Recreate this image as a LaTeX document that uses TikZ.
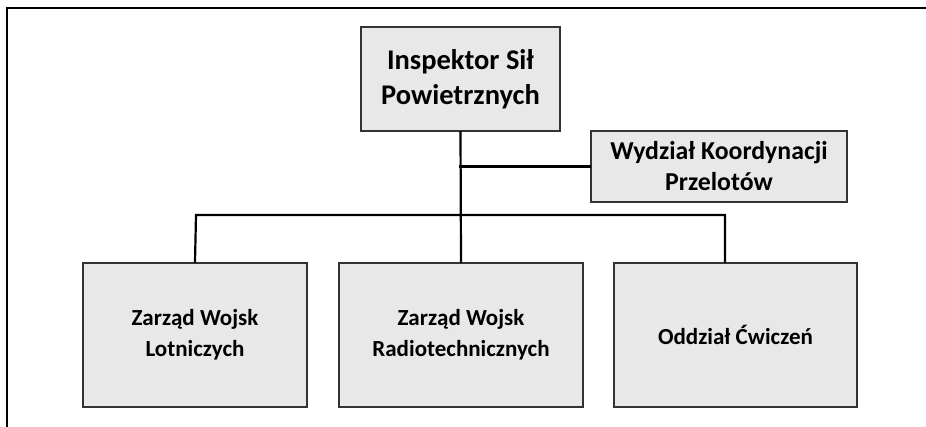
\documentclass[tikz,border=0pt]{standalone}
\usepackage{fontspec}
\setmainfont{Carlito}
\usepackage{tikz}
\usetikzlibrary{positioning}
\definecolor{boxfill}{rgb}{0.91,0.91,0.91}
\definecolor{boxline}{rgb}{0.2,0.2,0.2}

\begin{document}
\begin{tikzpicture}[x=1pt,y=-1pt,line cap=rect,line join=miter,
    unit/.style={draw=boxline,fill=boxfill,line width=2.2pt,align=center,inner sep=0pt,
      font=\bfseries\fontsize{23}{31}\selectfont},
    head/.style={unit,font=\bfseries\fontsize{28.5}{35}\selectfont},
    link/.style={draw=black,line width=2.2pt}]
                    \useasboundingbox (0,0) rectangle (926,426);
                    \draw[line width=2.2pt] (7,426) -- (7,8) -- (926,8);
                    % boxes
                    \node[head,minimum width=199pt,minimum height=104pt] (insp) at (460.5,79) {Inspektor Sił\\Powietrznych};
                    \node[unit,font=\bfseries\fontsize{25.8}{31}\selectfont,minimum width=256pt,minimum height=71pt] (wydz) at (719,166.5) {Wydział Koordynacji\\Przelotów};
                    \node[unit,minimum width=224pt,minimum height=144pt] (zwl) at (195,335) {Zarząd Wojsk\\Lotniczych};
                    \node[unit,minimum width=244pt,minimum height=144pt] (zwr) at (461,335) {Zarząd Wojsk\\Radiotechnicznych};
                    \node[unit,minimum width=243pt,minimum height=144pt] (odc) at (735.5,335) {Oddział Ćwiczeń};
                    % lines
                    \coordinate (busL) at (196,215);
                    \coordinate (busR) at (725,215);
                    \draw[link] (insp.south) -- (zwr.north);
                    \draw[link] (insp.south |- wydz.west) -- (wydz.west);
                    \draw[link] (zwl.north) -- (busL) -- (busR) -- (busR |- odc.north);
                \end{tikzpicture}
\end{document}
